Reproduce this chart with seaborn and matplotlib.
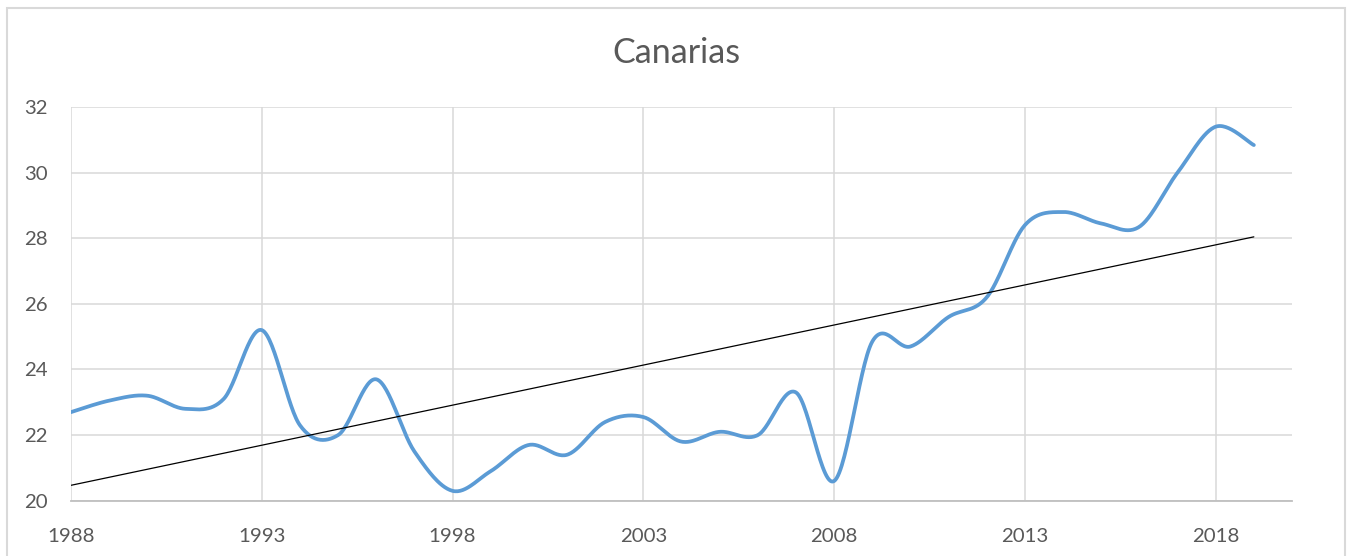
import numpy as np
import pandas as pd
import matplotlib
matplotlib.use("Agg")
import matplotlib.pyplot as plt
from matplotlib.patches import Rectangle
import seaborn as sns

# ---- data ----
years = list(range(1988, 2020))
values = [22.7, 23.05, 23.2, 22.8, 23.1, 25.2, 22.3, 22.0, 23.7, 21.5,
          20.3, 20.9, 21.7, 21.4, 22.4, 22.55, 21.8, 22.1, 22.0, 23.3,
          20.6, 24.85, 24.7, 25.6, 26.2, 28.4, 28.8, 28.45, 28.35, 30.0,
          31.4, 30.84]
title = "Canarias"
x_ticks = [1988, 1993, 1998, 2003, 2008, 2013, 2018]
y_ticks = [20, 22, 24, 26, 28, 30, 32]

# ---- style ----
sns.set_theme(style="white")
plt.rcParams['font.family'] = ['Lato', 'DejaVu Sans']
text_col = "#595959"
grid_col = "#d9d9d9"
line_col = "#5b9bd5"

W, H = 1351, 556
fig = plt.figure(figsize=(W / 100, H / 100), dpi=100)
fig.patch.set_facecolor("white")

# outer chart border
fig.add_artist(Rectangle((7 / W, -0.05), (1345 - 7) / W, 1.05 - 8.5 / H,
                         transform=fig.transFigure, fill=False,
                         edgecolor=grid_col, linewidth=1.5))

left, right, top, bottom = 71, 1292, 107, 500.7
ax = fig.add_axes([left / W, (H - bottom) / H, (right - left) / W, (bottom - top) / H])

# Excel-like smoothed line (Bezier through each data point)
def smooth(xv, yv, n=30):
    P = np.column_stack([xv, yv]).astype(float)
    Pe = np.vstack([P[0], P, P[-1]])
    out = []
    for i in range(len(P) - 1):
        p0 = P[i]
        p3 = P[i + 1]
        c1 = p0 + (Pe[i + 2] - Pe[i]) / 6.0
        c2 = p3 - (Pe[i + 3] - Pe[i + 1]) / 6.0
        t = np.linspace(0, 1, n, endpoint=(i == len(P) - 2))[:, None]
        seg = ((1 - t) ** 3) * p0 + 3 * ((1 - t) ** 2) * t * c1 + 3 * (1 - t) * t ** 2 * c2 + t ** 3 * p3
        out.append(seg)
    out = np.vstack(out)
    return out[:, 0], out[:, 1]

sx, sy = smooth(years, values)
curve = pd.DataFrame({"year": sx, "value": sy})
sns.lineplot(data=curve, x="year", y="value", ax=ax, color=line_col,
             linewidth=2.7, sort=False, estimator=None, zorder=3,
             solid_capstyle="round")

# linear trend line
coef = np.polyfit(years, values, 1)
trend = pd.DataFrame({"year": [years[0], years[-1]],
                      "value": np.polyval(coef, [years[0], years[-1]])})
sns.lineplot(data=trend, x="year", y="value", ax=ax, color="black",
             linewidth=0.9, estimator=None, zorder=4)

ax.set_xlim(1988, 2020)
ax.set_ylim(20, 32)
ax.set_xticks(x_ticks)
ax.set_yticks(y_ticks)
ax.set_xlabel("")
ax.set_ylabel("")
ax.grid(True, color=grid_col, linewidth=1.1)
ax.set_axisbelow(True)
for s in ["top", "right", "left"]:
    ax.spines[s].set_visible(False)
ax.spines["bottom"].set_color("#bfbfbf")
ax.spines["bottom"].set_linewidth(1.3)
ax.tick_params(axis="both", length=0, labelsize=14.7, colors=text_col)
ax.tick_params(axis="y", pad=17)
ax.tick_params(axis="x", pad=20)

fig.text(676 / W, (H - 53) / H, title, ha="center", va="center",
         fontsize=24.5, color=text_col)

fig.savefig("out.png", dpi=100, facecolor="white")
